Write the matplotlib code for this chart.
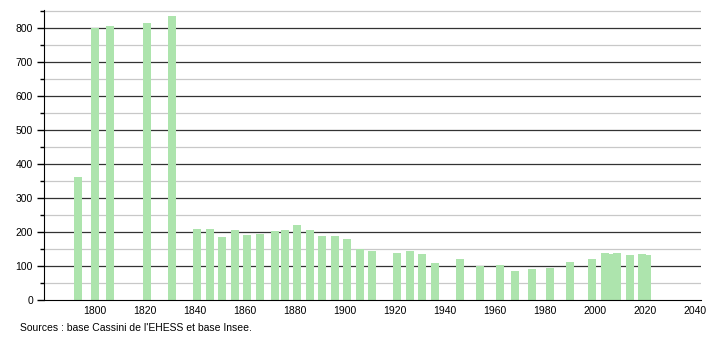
import matplotlib
matplotlib.use("Agg")
import matplotlib.pyplot as plt
from matplotlib.ticker import MultipleLocator

plt.rcParams["font.family"] = ["Liberation Sans", "DejaVu Sans"]

# population figures
years = [1793, 1800, 1806, 1821, 1831, 1841, 1846, 1851, 1856, 1861,
         1866, 1872, 1876, 1881, 1886, 1891, 1896, 1901, 1906, 1911,
         1921, 1926, 1931, 1936, 1946, 1954, 1962, 1968, 1975, 1982,
         1990, 1999, 2004, 2006, 2009, 2014, 2019, 2021]
population = [362, 801, 807, 815, 834, 208, 208, 186, 206, 191,
              194, 203, 207, 221, 206, 187, 189, 180, 149, 145,
              139, 143, 136, 108, 122, 100, 103, 85, 91, 95,
              112, 121, 137, 134, 138, 133, 134, 132]
x_ticks = [1800, 1820, 1840, 1860, 1880, 1900, 1920, 1940, 1960, 1980, 2000, 2020, 2040]
source_text = "Sources : base Cassini de l'EHESS et base Insee."

fig = plt.figure(figsize=(7.1, 3.4), dpi=100)
ax = fig.add_axes([0.062, 0.1176, 0.925, 0.853])

# grey lines every 50, black every 100
for v in range(50, 900, 100):
    ax.axhline(v, color="#c8c8c8", lw=0.9, zorder=0)
for v in range(100, 900, 100):
    ax.axhline(v, color="#333333", lw=0.9, zorder=0)

ax.bar(years, population, width=3.2, color="#ade4ad", zorder=2)

ax.set_xlim(1779.6, 2042.4)
ax.set_ylim(0, 853)
ax.set_xticks(x_ticks)
ax.yaxis.set_major_locator(MultipleLocator(100))
ax.yaxis.set_minor_locator(MultipleLocator(50))

for s in ["top", "right"]:
    ax.spines[s].set_visible(False)
ax.spines["left"].set_color("black")
ax.spines["bottom"].set_color("black")

ax.tick_params(axis="x", length=0, pad=4, labelsize=7.5)
ax.tick_params(axis="y", which="major", length=5, width=1, pad=3, labelsize=7.5)
ax.tick_params(axis="y", which="minor", length=3, width=1)

fig.text(0.028, 0.035, source_text, fontsize=7.5, ha="left", va="center")

fig.savefig("out.png", dpi=100)
